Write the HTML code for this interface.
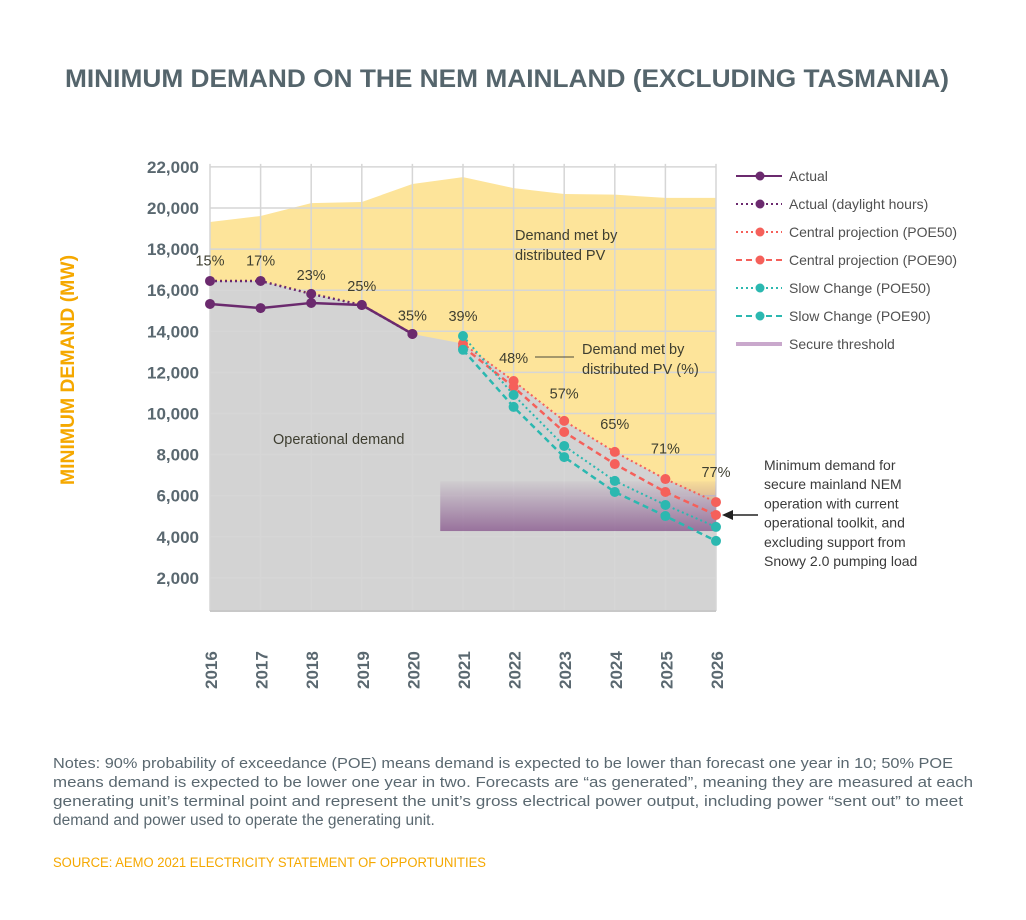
<!DOCTYPE html>
<html><head><meta charset="utf-8">
<style>
html,body{margin:0;padding:0;background:#fff;}
svg{display:block;font-family:"Liberation Sans",sans-serif;}
</style></head>
<body>
<svg id="chart" width="1026" height="920" viewBox="0 0 1026 920">
<defs>
<linearGradient id="secureGrad" x1="0" y1="0" x2="0" y2="1">
<stop offset="0" stop-color="#8a5a8f" stop-opacity="0.05"/>
<stop offset="1" stop-color="#8a5a8f" stop-opacity="0.8"/>
</linearGradient>
</defs>
<text x="507" y="87" text-anchor="middle" font-size="25" font-weight="bold" fill="#55656c" textLength="884" lengthAdjust="spacingAndGlyphs">MINIMUM DEMAND ON THE NEM MAINLAND (EXCLUDING TASMANIA)</text>
<g id="plot"></g>
<text transform="translate(74,370) rotate(-90)" text-anchor="middle" font-size="19" font-weight="bold" fill="#f5a800" textLength="230" lengthAdjust="spacingAndGlyphs">MINIMUM DEMAND (MW)</text>
<g font-size="15" fill="#5a6870">
<text x="53" y="768" textLength="900" lengthAdjust="spacingAndGlyphs">Notes: 90% probability of exceedance (POE) means demand is expected to be lower than forecast one year in 10; 50% POE</text>
<text x="53" y="787" textLength="920" lengthAdjust="spacingAndGlyphs">means demand is expected to be lower one year in two. Forecasts are “as generated”, meaning they are measured at each</text>
<text x="53" y="806" textLength="910" lengthAdjust="spacingAndGlyphs">generating unit’s terminal point and represent the unit’s gross electrical power output, including power “sent out” to meet</text>
<text x="53" y="825" font-size="15.5">demand and power used to operate the generating unit.</text>
</g>
<text x="53" y="867" font-size="13.5" fill="#f5a800" textLength="433" lengthAdjust="spacingAndGlyphs">SOURCE: AEMO 2021 ELECTRICITY STATEMENT OF OPPORTUNITIES</text>
</svg>
<script>
const years=[2016,2017,2018,2019,2020,2021,2022,2023,2024,2025,2026];
const yTicks=[2000,4000,6000,8000,10000,12000,14000,16000,18000,20000,22000];
const totalDemand=[19320,19610,20240,20290,21170,21500,20970,20680,20650,20490,20490];
const actual=[15330,15130,15380,15280,13870];
const actualDaylight=[16450,16450,15820,15280,13870];
const central50=[13400,11580,9640,8130,6810,5690];
const central90=[13250,11290,9100,7540,6180,5060];
const slow50=[13770,10900,8420,6720,5550,4480];
const slow90=[13100,10320,7880,6180,5010,3800];
const pvShare=["15%","17%","23%","25%","35%","39%","48%","57%","65%","71%","77%"];
const pvLabelValue=[17200,17200,16500,15950,14530,14500,12460,10720,9250,8050,6900];
const secureBand=[4280,6700];
const secureStartYear=2020.55;

const NS="http://www.w3.org/2000/svg";
const X0=210,X1=716,YB=611,Y0=619,K=0.02055;
const xs=y=>X0+(y-2016)*(X1-X0)/10;
const ys=v=>Y0-v*K;
const plot=document.getElementById('plot');
function mk(tag,attrs,parent){const e=document.createElementNS(NS,tag);for(const k in attrs)e.setAttribute(k,attrs[k]);(parent||plot).appendChild(e);return e;}

let d='M'+xs(2016)+','+YB;
years.forEach((y,i)=>d+=' L'+xs(y)+','+ys(totalDemand[i]));
d+=' L'+xs(2026)+','+YB+' Z';
const ya=mk('path',{d:d,fill:'#fde49a'});


const grayVals=actualDaylight.concat(central50);
let g='M'+xs(2016)+','+YB;
grayVals.forEach((v,i)=>g+=' L'+xs(years[i])+','+ys(v));
g+=' L'+xs(2026)+','+YB+' Z';
const ga=mk('path',{d:g,fill:'#d3d3d3'});


yTicks.forEach(v=>{const l=mk('line',{x1:X0,x2:X1,y1:ys(v),y2:ys(v),stroke:'#d6d6d6','stroke-width':1.5});

});
years.forEach(y=>{const l=mk('line',{x1:xs(y),x2:xs(y),y1:ys(22000)-3,y2:YB,stroke:'#d6d6d6','stroke-width':1.5});

});
mk('line',{x1:X0,x2:X1,y1:YB,y2:YB,stroke:'#c8c8c8','stroke-width':2});
const sb=mk('rect',{x:xs(secureStartYear),y:ys(secureBand[1]),width:X1-xs(secureStartYear),height:ys(secureBand[0])-ys(secureBand[1]),fill:'url(#secureGrad)'});


yTicks.forEach(v=>{const t=mk('text',{x:199,y:ys(v)+6,'text-anchor':'end','font-size':17,'font-weight':'bold',fill:'#5a6870'});t.textContent=v.toLocaleString('en-US');

});
years.forEach(y=>{const t=mk('text',{transform:'translate('+(xs(y)+7)+',689) rotate(-90)','font-size':17,'font-weight':'bold',fill:'#5a6870'});t.textContent=y;

});
function series(vals,startIdx,color,dash,width,name){
  const pts=vals.map((v,i)=>xs(years[startIdx+i])+','+ys(v)).join(' ');
  const p=mk('polyline',{points:pts,fill:'none',stroke:color,'stroke-width':width,'stroke-dasharray':dash||'none'});
  
  
  vals.forEach((v,i)=>{const c=mk('circle',{cx:xs(years[startIdx+i]),cy:ys(v),r:5,fill:color});
  
  });
}
series(actualDaylight,0,'#6b2a6e','2 3',2.5,'actual-daylight');
series(actual,0,'#6b2a6e','',2.5,'actual');
series(central50,5,'#f5605a','2 3',2,'central-poe50');
series(central90,5,'#f5605a','6 4',2.5,'central-poe90');
series(slow50,5,'#2bb8b0','2 3',2,'slow-change-poe50');
series(slow90,5,'#2bb8b0','6 4',2.5,'slow-change-poe90');
pvShare.forEach((s,i)=>{const t=mk('text',{x:xs(years[i]),y:ys(pvLabelValue[i]),'text-anchor':'middle','font-size':14.5,fill:'#3e3e30'});t.textContent=s;

});
function txt(x,y,s,size,name,fill){const t=mk('text',{x:x,y:y,'font-size':size,fill:fill||'#3e3e30'});t.textContent=s;

return t;}
txt(515,240,'Demand met by',14.5,'pv-area-label');
txt(515,260,'distributed PV',14.5,'pv-area-label');
txt(273,444,'Operational demand',14.5,'operational-area-label');
txt(582,354,'Demand met by',14.5,'pv-share-annotation');
txt(582,374,'distributed PV (%)',14.5,'pv-share-annotation');
mk('line',{x1:535,x2:574,y1:357,y2:357,stroke:'#4a4a3a','stroke-width':1});
['Minimum demand for','secure mainland NEM','operation with current','operational toolkit, and','excluding support from','Snowy 2.0 pumping load'].forEach((s,i)=>txt(764,470+i*19.2,s,14,'secure-threshold-annotation','#3a3a3a'));
mk('line',{x1:758,x2:728,y1:515,y2:515,stroke:'#222','stroke-width':1.5});
mk('path',{d:'M722,515 L733,510 L733,520 Z',fill:'#222'});
const legItems=[['Actual','#6b2a6e','',true],['Actual (daylight hours)','#6b2a6e','2 3',true],['Central projection (POE50)','#f5605a','2 3',true],['Central projection (POE90)','#f5605a','6 4',true],['Slow Change (POE50)','#2bb8b0','2 3',true],['Slow Change (POE90)','#2bb8b0','6 4',true],['Secure threshold','#c9a8cc','',false]];
legItems.forEach((it,i)=>{const yy=176+i*28;
  const l=mk('line',{x1:736,x2:782,y1:yy,y2:yy,stroke:it[1],'stroke-width':it[3]?2:4,'stroke-dasharray':it[2]||'none'});
  
  
  if(it[3]){const c=mk('circle',{cx:760,cy:yy,r:4.5,fill:it[1]});
  
  }
  const t=mk('text',{x:789,y:yy+5,'font-size':14,fill:'#505050'});t.textContent=it[0];
  
  
});
</script>
</body></html>
